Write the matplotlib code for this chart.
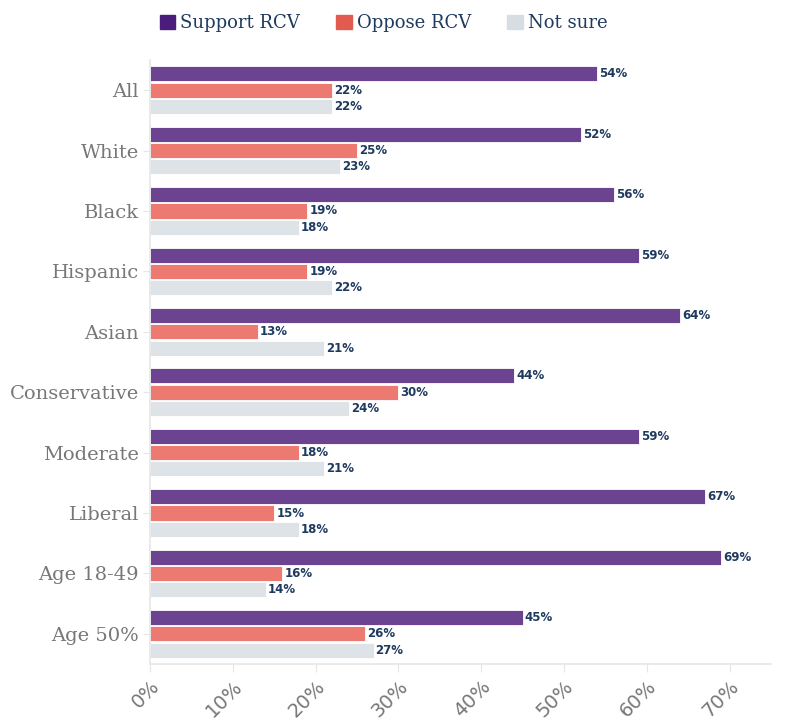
import matplotlib.pyplot as plt
import numpy as np

categories = ["All", "White", "Black", "Hispanic", "Asian", "Conservative",
              "Moderate", "Liberal", "Age 18-49", "Age 50%"]
support = [54, 52, 56, 59, 64, 44, 59, 67, 69, 45]
oppose = [22, 25, 19, 19, 13, 30, 18, 15, 16, 26]
not_sure = [22, 23, 18, 22, 21, 24, 21, 18, 14, 27]
series_names = ["Support RCV", "Oppose RCV", "Not sure"]
xticks = [0, 10, 20, 30, 40, 50, 60, 70]

bar_colors = ["#6b4390", "#ec7a70", "#dde3e6"]
legend_colors = ["#4b1c7c", "#e25b50", "#d6dee3"]
text_color = "#1f3a5f"
grey = "#777777"

fig = plt.figure(figsize=(7.96, 7.28), dpi=100)
ax = fig.add_axes([0.1884, 0.0879, 0.7802, 0.8297])

y = np.arange(len(categories))
h = 0.25
step = 0.27
for i, vals in enumerate([support, oppose, not_sure]):
    pos = y + (i - 1) * step
    ax.barh(pos, vals, height=h, color=bar_colors[i], edgecolor="white",
            linewidth=0.6, label=series_names[i])
    for p, v in zip(pos, vals):
        ax.text(v + 0.25, p, f"{v}%", va="center", ha="left", fontsize=8.5,
                fontweight="bold", color=text_color, family="DejaVu Sans")

ax.set_ylim(len(categories) - 0.5, -0.5)
ax.set_xlim(0, 75)
ax.set_yticks(y)
ax.set_yticklabels(categories, fontsize=14, color=grey, family="DejaVu Serif")
ax.set_xticks(xticks)
ax.set_xticklabels([f"{t}%" for t in xticks], rotation=45, ha="right",
                   rotation_mode="anchor", fontsize=14, color=grey,
                   family="DejaVu Sans")

for s in ["top", "right"]:
    ax.spines[s].set_visible(False)
for s in ["left", "bottom"]:
    ax.spines[s].set_color("#e6e6e6")
    ax.spines[s].set_linewidth(1.2)
ax.tick_params(axis="y", length=5, color="#e6e6e6", pad=3)
ax.tick_params(axis="x", length=6, color="#e6e6e6", pad=3)

# legend along the top
handles = [plt.Rectangle((0, 0), 1, 1, color=c) for c in legend_colors]
leg = fig.legend(handles, series_names, loc="upper left",
                 bbox_to_anchor=(0.18, 1.003), ncol=3, frameon=False,
                 handlelength=0.85, handleheight=0.85, handletextpad=0.3,
                 columnspacing=2.0, prop={"family": "DejaVu Serif", "size": 13})
for t in leg.get_texts():
    t.set_color(text_color)

fig.savefig("out.png", dpi=100)
